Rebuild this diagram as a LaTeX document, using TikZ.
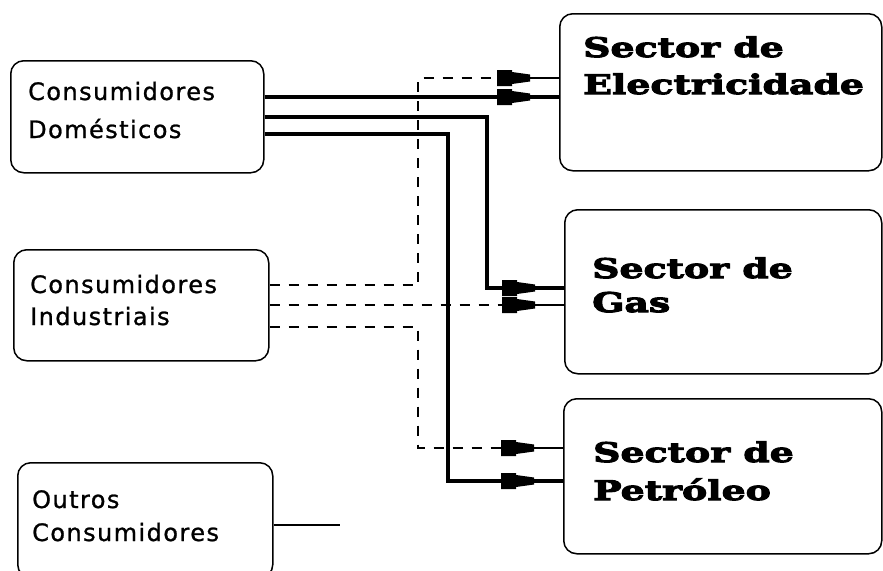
\documentclass[tikz,border=0pt]{standalone}
\usepackage{fontspec}
\setmainfont{DejaVu Sans}
\newfontfamily\lsans{DejaVu Sans}[LetterSpace=6,FakeBold=1]
\newfontfamily\heavy{DejaVu Serif}[UprightFont=* Bold, FakeStretch=1.4, FakeBold=4]
\usetikzlibrary{decorations.markings}
\tikzset{
 box/.style={draw, line width=1.5pt, rounded corners=13pt, inner sep=0pt, anchor=north west},
 ltext/.style={anchor=base west, inner sep=0pt, font=\lsans\fontsize{24}{28}\selectfont},
 rtext/.style={anchor=base west, inner sep=0pt, font=\heavy\fontsize{27}{30}\selectfont},
 solidc/.style={line width=3.4pt},
 dashc/.style={line width=2.6pt, dash pattern=on 10pt off 9pt},
 thinc/.style={line width=1.5pt},
 plug/.style={postaction={decorate}, decoration={markings, mark=at position -62pt with {
   \fill[solid] (0pt,8pt) -- (15pt,8pt) -- (15pt,6pt) -- (33pt,3.5pt) -- (33pt,-3.5pt) -- (15pt,-6pt) -- (15pt,-8pt) -- (0pt,-8pt) -- cycle;
   \draw[solid, line width=2.4pt] (30pt,0pt) -- (62pt,0pt);}}},
}
\begin{document}
\begin{tikzpicture}[x=1pt,y=-1pt]
\clip (0,0) rectangle (883,570);
\useasboundingbox (0,0) rectangle (883,570);
% left boxes
\node[box, minimum width=253pt, minimum height=112pt] (dom) at (10,60) {};
\node[box, minimum width=255pt, minimum height=111pt] (ind) at (13,249) {};
\node[box, minimum width=255pt, minimum height=115pt] (out) at (17,462) {};
% right boxes
\node[box, minimum width=322pt, minimum height=157pt] (elec) at (559,13) {};
\node[box, minimum width=317pt, minimum height=164pt] (gas) at (564,209) {};
\node[box, minimum width=318pt, minimum height=155pt] (pet) at (563,398) {};
% left texts
\node[ltext] (t1) at (28,100) {Consumidores};
\node[ltext] (t2) at (28,138) {Domésticos};
\node[ltext] (t3) at (30,293) {Consumidores};
\node[ltext] (t4) at (30,325) {Industriais};
\node[ltext] (t5) at (32,508) {Outros};
\node[ltext] (t6) at (32,541) {Consumidores};
% right texts
\node[rtext] (r1) at (583,57) {Sector de};
\node[rtext] (r2) at (583,94) {Electricidade};
\node[rtext] (r3) at (592,278) {Sector de};
\node[rtext] (r4) at (592,312) {Gas};
\node[rtext] (r5) at (593,462) {Sector de};
\node[rtext] (r6) at (593,500) {Petróleo};
% solid connectors from Domesticos
\draw[solidc, plug] (dom.east |- 0,97) -- (elec.west |- 0,97);
\coordinate (s2) at (487,117);
\coordinate (s3) at (448,134);
\draw[solidc, plug] (dom.east |- 0,117) -- (s2) -- (s2 |- 0,288) -- (gas.west |- 0,288);
\draw[solidc, plug] (dom.east |- 0,134) -- (s3) -- (s3 |- 0,481) -- (pet.west |- 0,481);
% dashed connectors from Industriais
\coordinate (d1) at (418,285);
\coordinate (d3) at (418,327);
\draw[dashc, plug] (ind.east |- 0,285) -- (d1) -- (d1 |- 0,78) -- (elec.west |- 0,78);
\draw[dashc, plug] (ind.east |- 0,305) -- (gas.west |- 0,305);
\draw[dashc, plug] (ind.east |- 0,327) -- (d3) -- (d3 |- 0,448) -- (pet.west |- 0,448);
% outros stub
\coordinate (oend) at (340,525);
\draw[thinc] (out.east |- oend) -- (oend);
\end{tikzpicture}
\end{document}
